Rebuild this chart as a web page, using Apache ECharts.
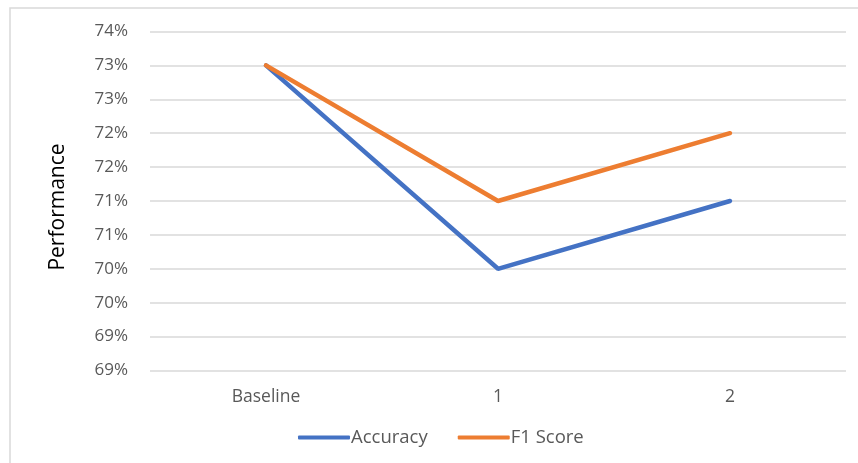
<!DOCTYPE html>
<html>
<head>
<meta charset="utf-8">
<script src="https://cdn.jsdelivr.net/npm/echarts@6/dist/echarts.min.js"></script>
<style>
  html, body { margin: 0; padding: 0; background: #fff; }
  #chart { width: 858px; height: 463px; }
</style>
</head>
<body>
<div id="chart"></div>
<script>
// Model performance per training stage (percent)
const stages = ['Baseline', '1', '2'];
const accuracy = [73.0, 70.0, 71.0];
const f1Score = [73.0, 71.0, 72.0];

const FONT = '"Open Sans", Lato, sans-serif';

const chart = echarts.init(document.getElementById('chart'), null, { renderer: 'canvas' });

chart.setOption({
  animation: false,
  backgroundColor: '#ffffff',
  graphic: [
    {
      type: 'rect',
      shape: { x: 10, y: 8, width: 870, height: 480 },
      style: { fill: 'none', stroke: '#d9d9d9', lineWidth: 1.5 },
      silent: true
    },
    {
      // vertical axis title
      type: 'text',
      x: 58,
      y: 207,
      rotation: Math.PI / 2,
      style: {
        text: 'Performance',
        fill: '#000000',
        font: '21px "Open Sans", Lato, sans-serif',
        align: 'center',
        verticalAlign: 'middle'
      },
      silent: true
    }
  ],
  grid: { left: 150, right: 12, top: 31.5, bottom: 92.5 },
  xAxis: {
    type: 'category',
    data: stages,
    boundaryGap: true,
    axisLine: { show: false },
    axisTick: { show: false },
    axisLabel: { color: '#595959', fontSize: 17.5, fontFamily: FONT, margin: 18 }
  },
  yAxis: {
    type: 'value',
    min: 68.5,
    max: 73.5,
    interval: 0.5,
    axisLine: { show: false },
    axisTick: { show: false },
    splitLine: { lineStyle: { color: '#d9d9d9', width: 1.5 } },
    axisLabel: {
      color: '#595959', fontSize: 17, fontFamily: FONT, margin: 22,
      formatter: v => Math.round(v) + '%'
    }
  },
  legend: {
    top: 423,
    left: 293,
    itemWidth: 52,
    itemHeight: 4,
    itemGap: 30,
    icon: 'roundRect',
    textStyle: { color: '#595959', fontSize: 18.5, fontFamily: FONT, padding: [0, 0, 0, -4] },
    data: ['Accuracy', 'F1 Score']
  },
  series: [
    {
      name: 'Accuracy',
      type: 'line',
      data: accuracy,
      symbol: 'none',
      lineStyle: { color: '#4472C4', width: 4.5, cap: 'round' },
      itemStyle: { color: '#4472C4' }
    },
    {
      name: 'F1 Score',
      type: 'line',
      data: f1Score,
      symbol: 'none',
      lineStyle: { color: '#ED7D31', width: 4.5, cap: 'round' },
      itemStyle: { color: '#ED7D31' }
    }
  ]
});
</script>
</body>
</html>
